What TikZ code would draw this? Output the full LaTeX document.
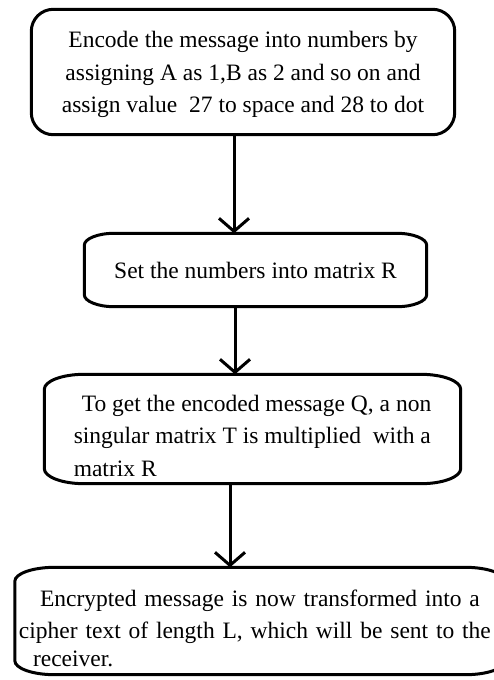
\documentclass[tikz,border=0pt]{standalone}
\usepackage{fontspec}
\setmainfont{Liberation Serif}
\usetikzlibrary{arrows.meta}

\newcommand{\boxoutline}[3]{%
  \draw[boxline] ([xshift=#2]#1.north west) -- ([xshift=-#2]#1.north east)
    arc[start angle=90, end angle=0, x radius=#2, y radius=#3]
    -- ([yshift=#3]#1.south east)
    arc[start angle=0, end angle=-90, x radius=#2, y radius=#3]
    -- ([xshift=#2]#1.south west)
    arc[start angle=270, end angle=180, x radius=#2, y radius=#3]
    -- ([yshift=-#3]#1.north west)
    arc[start angle=180, end angle=90, x radius=#2, y radius=#3] -- cycle;}

\begin{document}
\begin{tikzpicture}[x=1pt, y=-1pt,
  flowbox/.style={inner sep=0pt, font=\fontsize{23.5}{32.5}\selectfont},
  boxline/.style={line width=3pt},
  flow/.style={line width=3pt, -{Straight Barb[length=13pt, width=30pt]}}]
\useasboundingbox (0,0) rectangle (493,680);
\node[flowbox, align=center, minimum width=423pt, minimum height=125pt] (encode) at (243,72)
  {\rule{0pt}{22pt}Encode the message into numbers by\\assigning A as 1,B as 2 and so on and\\assign value\ \ 27 to space and 28 to dot};
\node[flowbox, align=center, minimum width=342pt, minimum height=73pt] (matrix) at (255.5,270)
  {Set the numbers into matrix R};
\node[flowbox, align=left, minimum width=416pt, minimum height=109pt] (product) at (252.5,429)
  {\rule{0pt}{30pt}\hspace*{8pt}To get the encoded message Q, a non\\singular matrix T is multiplied\ \ with a\\matrix R};
\node[flowbox, align=left, text width=482pt, minimum width=490pt, minimum height=107pt] (cipher) at (260,621)
  {\rule{0pt}{31pt}\hspace*{21pt}Encrypted message is now transformed into a\\cipher text of length L, which will be sent to the\\[-5pt]\hspace*{14pt}receiver.};
\boxoutline{encode}{22pt}{22pt}
\boxoutline{matrix}{30pt}{12pt}
\boxoutline{product}{40pt}{15pt}
\boxoutline{cipher}{40pt}{14pt}
\draw[flow] ([xshift=-9pt]encode.south) -- ([xshift=-9pt]encode.south |- matrix.north);
\draw[flow] ([xshift=-20.5pt]matrix.south) -- ([xshift=-20.5pt]matrix.south |- product.north);
\draw[flow] ([xshift=-22.5pt]product.south) -- ([xshift=-22.5pt]product.south |- cipher.north);
\end{tikzpicture}
\end{document}
